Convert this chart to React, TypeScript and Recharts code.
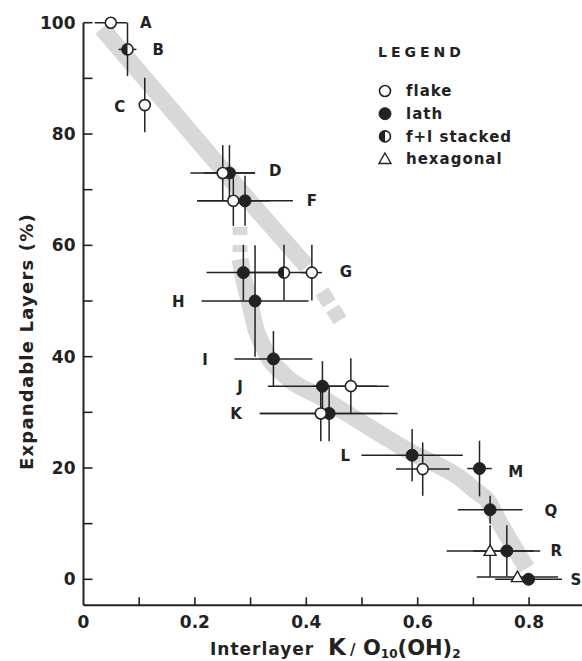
import { ComposedChart, Line, Scatter, ErrorBar, XAxis, YAxis } from "recharts"

// point data: x = K per O10(OH)2, y = expandable layers %, ex / ey = error half-widths
const flakePoints = [
  { x: 0.049, y: 100, ex: 0.029, ey: 0 },
  { x: 0.11, y: 85.2, ex: 0, ey: 4.9 },
  { x: 0.25, y: 73.0, ex: 0.058, ey: 5 },
  { x: 0.269, y: 68.0, ex: 0.065, ey: 4.5 },
  { x: 0.41, y: 55.1, ex: 0.018, ey: 5 },
  { x: 0.48, y: 34.7, ex: 0.068, ey: 5 },
  { x: 0.426, y: 29.8, ex: 0.11, ey: 5 },
  { x: 0.609, y: 19.8, ex: 0.048, ey: 4.8 },
]

const lathPoints = [
  { x: 0.262, y: 73.0, ex: 0.046, ey: 5 },
  { x: 0.29, y: 68.0, ex: 0.086, ey: 4.5 },
  { x: 0.287, y: 55.1, ex: 0.066, ey: 5 },
  { x: 0.308, y: 50.0, ex: 0.096, ey: 10 },
  { x: 0.341, y: 39.6, ex: 0.07, ey: 5 },
  { x: 0.429, y: 34.7, ex: 0.098, ey: 4.5 },
  { x: 0.441, y: 29.8, ex: 0.123, ey: 5 },
  { x: 0.59, y: 22.3, ex: 0.091, ey: 4.7 },
  { x: 0.711, y: 19.9, ex: 0.022, ey: 5 },
  { x: 0.73, y: 12.5, ex: 0.058, ey: 2.5 },
  { x: 0.76, y: 5.1, ex: 0.06, ey: 4.6 },
  { x: 0.799, y: 0, ex: 0.06, ey: 0 },
]

const stackedPoints = [
  { x: 0.079, y: 95.2, ex: 0.016, ey: 4.8 },
  { x: 0.36, y: 55.1, ex: 0.06, ey: 5 },
]

const hexPoints = [
  { x: 0.73, y: 5.1, ex: 0.078, ey: 4.6 },
  { x: 0.779, y: 0.4, ex: 0.073, ey: 0 },
]

// sample letters and where they sit (data units)
const sampleLabels = [
  { name: "A", x: 0.112, y: 100 },
  { name: "B", x: 0.134, y: 95.2 },
  { name: "C", x: 0.065, y: 85 },
  { name: "D", x: 0.344, y: 73.4 },
  { name: "F", x: 0.41, y: 68 },
  { name: "G", x: 0.471, y: 55.2 },
  { name: "H", x: 0.17, y: 49.9 },
  { name: "I", x: 0.218, y: 39.4 },
  { name: "J", x: 0.281, y: 34.6 },
  { name: "K", x: 0.274, y: 29.8 },
  { name: "L", x: 0.47, y: 22.2 },
  { name: "M", x: 0.776, y: 19.3 },
  { name: "Q", x: 0.839, y: 12.3 },
  { name: "R", x: 0.849, y: 5.1 },
  { name: "S", x: 0.884, y: 0 },
]

// grey trend bands
const upperBand = [
  { x: 0.033, y: 99 },
  { x: 0.293, y: 68.5 },
  { x: 0.401, y: 56.2 },
]
const upperBandDash = [
  { x: 0.428, y: 51.7 },
  { x: 0.462, y: 46.3 },
]
const lowerBandDash = [
  { x: 0.281, y: 63.3 },
  { x: 0.2811, y: 57.7 },
]
const lowerBand = [
  { x: 0.281, y: 57.5 },
  { x: 0.288, y: 53.8 },
  { x: 0.3, y: 49 },
  { x: 0.31, y: 44.8 },
  { x: 0.322, y: 42 },
  { x: 0.335, y: 39.4 },
  { x: 0.355, y: 37.3 },
  { x: 0.371, y: 35.8 },
  { x: 0.425, y: 32.8 },
  { x: 0.478, y: 29.5 },
  { x: 0.53, y: 26.3 },
  { x: 0.586, y: 22.9 },
  { x: 0.64, y: 20.3 },
  { x: 0.676, y: 18.2 },
  { x: 0.705, y: 15.8 },
  { x: 0.724, y: 14.3 },
  { x: 0.748, y: 10 },
  { x: 0.772, y: 5.9 },
  { x: 0.796, y: 2.0 },
]

const xTicks = [0, 0.1, 0.2, 0.3, 0.4, 0.5, 0.6, 0.7, 0.8]
const xTickLabels = ["0", "", "0.2", "", "0.4", "", "0.6", "", "0.8"]
const yTicks = [0, 10, 20, 30, 40, 50, 60, 70, 80, 90, 100]
const yTickLabels = ["0", "", "20", "", "40", "", "60", "", "80", "", "100"]

const FONT = "'DejaVu Sans', sans-serif"
const INK = "#222"
const BAND = "#d8d8d8"

const XTick = (props: any) => {
  const { x, y, index } = props
  const label = xTickLabels[index]
  return (
    <g>
      {index > 0 && <line x1={x} x2={x} y1={y} y2={y - 8} stroke={INK} strokeWidth={1.6} />}
      {label && (
        <text x={x} y={y + 23} textAnchor="middle" fontFamily={FONT} fontWeight="bold" fontSize={17} fill={INK}>
          {label}
        </text>
      )}
    </g>
  )
}

const YTick = (props: any) => {
  const { x, y, index } = props
  const label = yTickLabels[index]
  return (
    <g>
      <line x1={x} x2={x + 9} y1={y} y2={y} stroke={INK} strokeWidth={1.6} />
      {label && (
        <text x={x - 8} y={y} dy="0.36em" textAnchor="end" fontFamily={FONT} fontWeight="bold" fontSize={17} fill={INK}>
          {label}
        </text>
      )}
    </g>
  )
}

const R = 5.5

const OpenCircle = ({ cx, cy }: any) => (
  <circle cx={cx} cy={cy} r={R} fill="#fff" stroke={INK} strokeWidth={1.6} />
)
const FilledCircle = ({ cx, cy }: any) => (
  <circle cx={cx} cy={cy} r={R + 0.5} fill={INK} stroke={INK} strokeWidth={1} />
)
const HalfCircle = ({ cx, cy }: any) => (
  <g>
    <circle cx={cx} cy={cy} r={R} fill="#fff" stroke={INK} strokeWidth={1.6} />
    <path d={`M${cx},${cy - R} A${R},${R} 0 0 0 ${cx},${cy + R} Z`} fill={INK} />
  </g>
)
const Triangle = ({ cx, cy }: any) => (
  <path
    d={`M${cx},${cy - 6} L${cx + 6},${cy + 4.5} L${cx - 6},${cy + 4.5} Z`}
    fill="#fff"
    stroke={INK}
    strokeWidth={1.4}
  />
)
const Letter = ({ cx, cy, payload }: any) => (
  <text x={cx} y={cy} dy="0.36em" textAnchor="middle" fontFamily={FONT} fontWeight="bold" fontSize={15} fill={INK}>
    {payload.name}
  </text>
)

const bars = (
  <>
    <ErrorBar dataKey="ex" direction="x" width={0} stroke={INK} strokeWidth={1.5} />
    <ErrorBar dataKey="ey" direction="y" width={0} stroke={INK} strokeWidth={1.5} />
  </>
)

function Overlay() {
  const legendRows = [
    { y: 91, label: "flake", mark: <OpenCircle cx={385} cy={91} /> },
    { y: 113.7, label: "lath", mark: <FilledCircle cx={385} cy={113.7} /> },
    { y: 136.4, label: "f+l stacked", mark: <HalfCircle cx={385} cy={136.4} /> },
    { y: 159, label: "hexagonal", mark: <Triangle cx={385} cy={159} /> },
  ]
  return (
    <svg width={582} height={661} style={{ position: "absolute", left: 0, top: 0, pointerEvents: "none" }}>
      <text x={378} y={57} fontFamily={FONT} fontWeight="bold" fontSize={14} letterSpacing={4} fill={INK}>
        LEGEND
      </text>
      {legendRows.map((r) => (
        <g key={r.label}>
          {r.mark}
          <text x={406} y={r.y} dy="0.36em" fontFamily={FONT} fontWeight="bold" fontSize={15} letterSpacing={1} fill={INK}>
            {r.label}
          </text>
        </g>
      ))}
      <text
        transform="translate(33,341.5) rotate(-90)"
        textAnchor="middle"
        fontFamily={FONT}
        fontWeight="bold"
        fontSize={18}
        letterSpacing={1.2}
        fill={INK}
      >
        Expandable Layers (%)
      </text>
      <text y={655} fontFamily={FONT} fontWeight="bold" fill={INK}>
        <tspan x={210} fontSize={17} letterSpacing={1}>Interlayer</tspan>
        <tspan x={328} fontSize={23}>K</tspan>
        <tspan x={350} fontSize={15}>/</tspan>
        <tspan x={363} fontSize={21}>O</tspan>
        <tspan fontSize={12} dy={3}>10</tspan>
        <tspan fontSize={21} dy={-3}>(OH)</tspan>
        <tspan fontSize={12} dy={3}>2</tspan>
      </text>
    </svg>
  )
}

export default function App() {
  return (
    <div style={{ position: "absolute", left: 0, top: 0, width: 582, height: 661, background: "#fff" }}>
      <ComposedChart width={582} height={661} margin={{ top: 22.7, right: 0, bottom: 0, left: 0 }}>
        <XAxis
          type="number"
          dataKey="x"
          domain={[0, 0.895]}
          ticks={xTicks}
          interval={0}
          height={55.7}
          tickSize={0}
          tickMargin={0}
          tick={<XTick />}
          axisLine={{ stroke: INK, strokeWidth: 2 }}
        />
        <YAxis
          type="number"
          dataKey="y"
          domain={[-4.67, 100]}
          ticks={yTicks}
          interval={0}
          width={83.5}
          tickSize={0}
          tickMargin={0}
          tick={<YTick />}
          axisLine={{ stroke: INK, strokeWidth: 2 }}
        />
        <Line data={upperBand} dataKey="y" type="linear" stroke={BAND} strokeWidth={17} dot={false} activeDot={false} isAnimationActive={false} />
        <Line data={upperBandDash} dataKey="y" type="linear" stroke={BAND} strokeWidth={15} strokeDasharray="14 6" dot={false} activeDot={false} isAnimationActive={false} />
        <Line data={lowerBandDash} dataKey="y" type="linear" stroke={BAND} strokeWidth={15} strokeDasharray="8 10 7 20" dot={false} activeDot={false} isAnimationActive={false} />
        <Line data={lowerBand} dataKey="y" type="monotone" stroke={BAND} strokeWidth={17} dot={false} activeDot={false} isAnimationActive={false} />
        <Scatter data={lathPoints} dataKey="y" shape={<FilledCircle />} isAnimationActive={false}>
          {bars}
        </Scatter>
        <Scatter data={stackedPoints} dataKey="y" shape={<HalfCircle />} isAnimationActive={false}>
          {bars}
        </Scatter>
        <Scatter data={hexPoints} dataKey="y" shape={<Triangle />} isAnimationActive={false}>
          {bars}
        </Scatter>
        <Scatter data={flakePoints} dataKey="y" shape={<OpenCircle />} isAnimationActive={false}>
          {bars}
        </Scatter>
        <Scatter data={sampleLabels} dataKey="y" shape={<Letter />} isAnimationActive={false} />
      </ComposedChart>
      <Overlay />
    </div>
  )
}
